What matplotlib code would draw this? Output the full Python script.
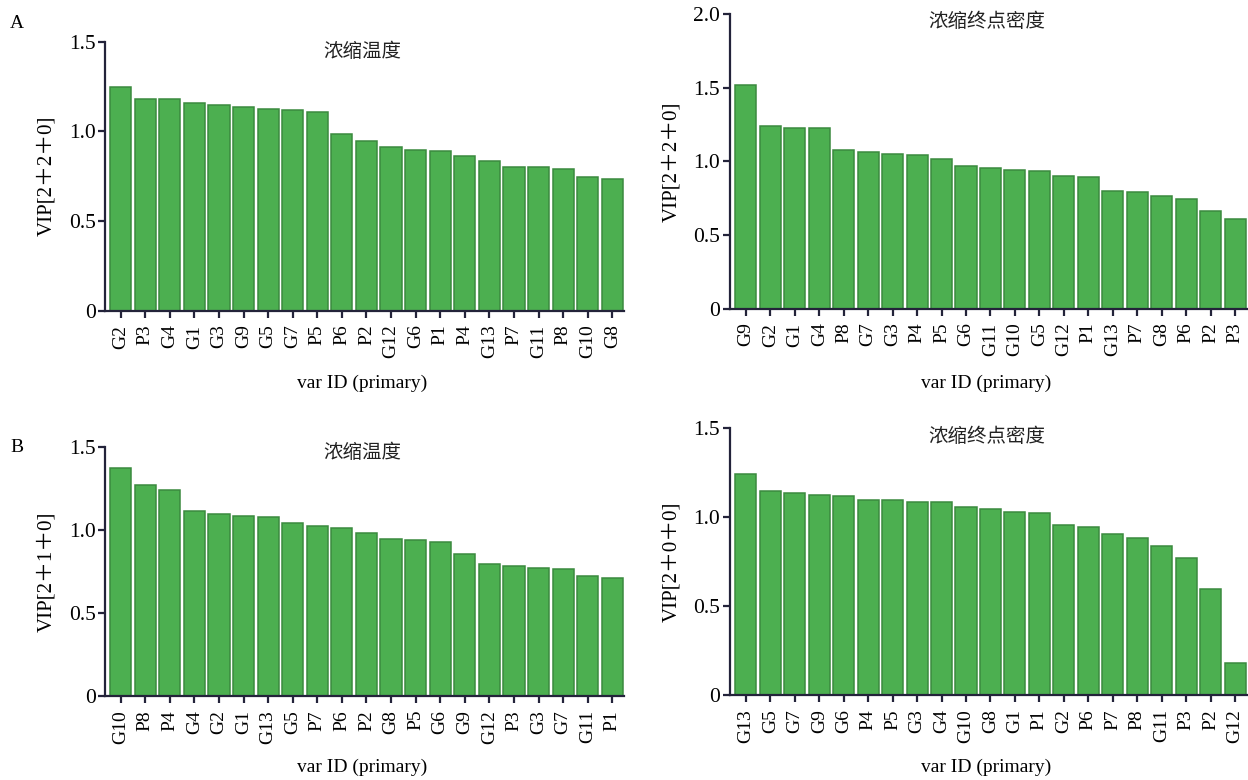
import matplotlib
matplotlib.use("Agg")
import matplotlib.pyplot as plt
import numpy as np

plt.rcParams["font.family"] = ["Liberation Serif", "Noto Sans CJK SC"]

# VIP scores, sorted high to low, one list pair per model
a1_ids = ["G2", "P3", "G4", "G1", "G3", "G9", "G5", "G7", "P5", "P6", "P2",
          "G12", "G6", "P1", "P4", "G13", "P7", "G11", "P8", "G10", "G8"]
a1_vip = [1.245, 1.182, 1.178, 1.159, 1.148, 1.135, 1.123, 1.117, 1.108, 0.985, 0.946,
          0.912, 0.896, 0.890, 0.862, 0.834, 0.803, 0.801, 0.790, 0.747, 0.734]

a2_ids = ["G9", "G2", "G1", "G4", "P8", "G7", "G3", "P4", "P5", "G6", "G11",
          "G10", "G5", "G12", "P1", "G13", "P7", "G8", "P6", "P2", "P3"]
a2_vip = [1.516, 1.240, 1.226, 1.226, 1.075, 1.061, 1.052, 1.041, 1.016, 0.968, 0.955,
          0.943, 0.934, 0.900, 0.894, 0.801, 0.792, 0.765, 0.746, 0.665, 0.611]

b1_ids = ["G10", "P8", "P4", "G4", "G2", "G1", "G13", "G5", "P7", "P6", "P2",
          "G8", "P5", "G6", "G9", "G12", "P3", "G3", "G7", "G11", "P1"]
b1_vip = [1.372, 1.271, 1.237, 1.113, 1.093, 1.081, 1.079, 1.043, 1.025, 1.009, 0.983,
          0.947, 0.941, 0.927, 0.856, 0.794, 0.780, 0.772, 0.766, 0.724, 0.708]

b2_ids = ["G13", "G5", "G7", "G9", "G6", "P4", "P5", "G3", "G4", "G10", "G8",
          "G1", "P1", "G2", "P6", "P7", "P8", "G11", "P3", "P2", "G12"]
b2_vip = [1.243, 1.146, 1.137, 1.124, 1.118, 1.097, 1.096, 1.086, 1.084, 1.056, 1.045,
          1.028, 1.024, 0.957, 0.944, 0.904, 0.885, 0.839, 0.773, 0.597, 0.181]

W, H = 1248, 780
BAR = "#4caf50"
EDGE = "#3b8a3f"
SPINE = "#23233a"


def px_axes(fig, left, right, top, bottom):
    return fig.add_axes([left / W, 1 - bottom / H, (right - left) / W, (bottom - top) / H])


def vip_panel(ax, ids, vip, ymax, ylab, title, xlim, title_y, xlab_y):
    x = np.arange(len(ids))
    ax.bar(x, vip, width=0.86, color=BAR, edgecolor=EDGE, linewidth=1.1)
    ax.set_xlim(*xlim)
    ax.set_ylim(0, ymax)

    ticks = np.arange(0, ymax + 0.01, 0.5)
    ax.set_yticks(ticks)
    ax.set_yticklabels(["0"] + [f"{t:.1f}" for t in ticks[1:]])
    ax.set_xticks(x)
    ax.set_xticklabels(ids, rotation=90)

    for side in ("top", "right"):
        ax.spines[side].set_visible(False)
    for side in ("left", "bottom"):
        ax.spines[side].set_color(SPINE)
        ax.spines[side].set_linewidth(1.6)
    ax.tick_params(axis="y", direction="out", length=5, width=1.6, color=SPINE,
                   labelsize=15.5, pad=2)
    ax.tick_params(axis="x", direction="out", length=5, width=1.6, color=SPINE,
                   labelsize=14, pad=5)

    ax.text(0.495, title_y, title, transform=ax.transAxes, ha="center", va="center",
            fontsize=14, family=["Noto Sans CJK SC"], color="#222222")
    ax.text(0.495, xlab_y, "var ID (primary)", transform=ax.transAxes,
            ha="center", va="center", fontsize=14)
    ax.text(-0.113, 0.5, ylab, transform=ax.transAxes, rotation=90,
            ha="center", va="center", fontsize=15,
            family=["Liberation Serif", "Noto Sans CJK SC"])


fig = plt.figure(figsize=(W / 100, H / 100), dpi=100)

ax_a1 = px_axes(fig, 105.3, 624.3, 41.7, 310.7)
vip_panel(ax_a1, a1_ids, a1_vip, 1.5, "VIP[2＋2＋0]", "浓缩温度",
          (-0.627, 20.49), 0.963, -0.269)

ax_a2 = px_axes(fig, 730, 1248, 14, 308.7)
vip_panel(ax_a2, a2_ids, a2_vip, 2.0, "VIP[2＋2＋0]", "浓缩终点密度",
          (-0.65, 20.53), 0.974, -0.252)

ax_b1 = px_axes(fig, 105.3, 624.3, 446.7, 696)
vip_panel(ax_b1, b1_ids, b1_vip, 1.5, "VIP[2＋1＋0]", "浓缩温度",
          (-0.627, 20.49), 0.976, -0.285)

ax_b2 = px_axes(fig, 730, 1248, 428.3, 695.3)
vip_panel(ax_b2, b2_ids, b2_vip, 1.5, "VIP[2＋0＋0]", "浓缩终点密度",
          (-0.65, 20.53), 0.9685, -0.2685)

fig.text(16.7 / W, 1 - 24 / H, "A", ha="center", va="center", fontsize=14)
fig.text(17 / W, 1 - 448 / H, "B", ha="center", va="center", fontsize=14)

fig.savefig("out.png", dpi=100)
